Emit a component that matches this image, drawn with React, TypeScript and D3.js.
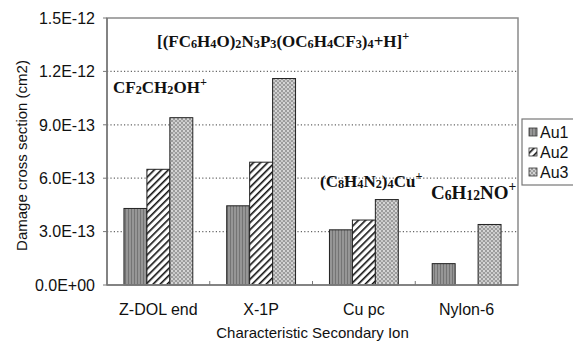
import { useEffect, useRef } from 'react';
import * as d3 from 'd3';

const categories = ['Z-DOL end', 'X-1P', 'Cu pc', 'Nylon-6'];
const seriesNames = ['Au1', 'Au2', 'Au3'];
const au1 = [4.3e-13, 4.45e-13, 3.1e-13, 1.2e-13];
const au2 = [6.5e-13, 6.9e-13, 3.65e-13, 0];
const au3 = [9.4e-13, 1.16e-12, 4.8e-13, 3.4e-13];
const yTicks = [0, 3e-13, 6e-13, 9e-13, 1.2e-12, 1.5e-12];
// ion labels: "_" = subscript digits, "^" = superscript
const ionLabels = [
  { text: '[(FC_6H_4O)_2N_3P_3(OC_6H_4CF_3)_4+H]^+', x: 157, y: 47, size: 17 },
  { text: 'CF_2CH_2OH^+', x: 113, y: 93, size: 17 },
  { text: '(C_8H_4N_2)_4Cu^+', x: 320, y: 187, size: 17 },
  { text: 'C_6H_12NO^+', x: 431, y: 199, size: 19 },
];

const fmt = (v: number) => {
  const [m, e] = v.toExponential(1).split('e');
  return `${m}E${e[0]}${e.slice(1).padStart(2, '0')}`;
};

const parseLabel = (s: string) => {
  const parts: { t: string; kind: string }[] = [];
  const re = /_(\d+)|\^(\+)|([^_^]+)/g;
  let m;
  while ((m = re.exec(s))) {
    if (m[1]) parts.push({ t: m[1], kind: 'sub' });
    else if (m[2]) parts.push({ t: m[2], kind: 'sup' });
    else parts.push({ t: m[3], kind: 'n' });
  }
  return parts;
};

export default function App() {
  const ref = useRef<SVGSVGElement>(null);

  useEffect(() => {
    const W = 573, H = 343;
    const margin = { top: 18, right: 55, bottom: 58, left: 107 };
    const width = W - margin.left - margin.right;
    const height = H - margin.top - margin.bottom;

    const svg = d3.select(ref.current);
    svg.selectAll('*').remove();

    const defs = svg.append('defs');
    const p1 = defs.append('pattern').attr('id', 'pAu1').attr('patternUnits', 'userSpaceOnUse')
      .attr('width', 3).attr('height', 4);
    p1.append('rect').attr('width', 3).attr('height', 4).attr('fill', '#969696');
    p1.append('rect').attr('width', 1).attr('height', 4).attr('fill', '#747474');
    const p2 = defs.append('pattern').attr('id', 'pAu2').attr('patternUnits', 'userSpaceOnUse')
      .attr('width', 5).attr('height', 5).attr('patternTransform', 'rotate(45)');
    p2.append('rect').attr('width', 5).attr('height', 5).attr('fill', '#fff');
    p2.append('rect').attr('width', 1.6).attr('height', 5).attr('fill', '#111');
    const p3 = defs.append('pattern').attr('id', 'pAu3').attr('patternUnits', 'userSpaceOnUse')
      .attr('width', 4).attr('height', 4);
    p3.append('rect').attr('width', 4).attr('height', 4).attr('fill', '#9c9c9c');
    p3.append('circle').attr('cx', 1).attr('cy', 1).attr('r', 0.9).attr('fill', '#f2f2f2');
    p3.append('circle').attr('cx', 3).attr('cy', 3).attr('r', 0.9).attr('fill', '#e0e0e0');
    const fills = ['url(#pAu1)', 'url(#pAu2)', 'url(#pAu3)'];

    const g = svg.append('g').attr('transform', `translate(${margin.left},${margin.top})`);

    const x0 = d3.scaleBand().domain(categories).range([0, width]).paddingInner(0.33).paddingOuter(0.165);
    const x1 = d3.scaleBand().domain(seriesNames).range([0, x0.bandwidth()]);
    const y = d3.scaleLinear().domain([0, 1.5e-12]).range([height, 0]);

    // gridlines
    g.selectAll('.grid').data(yTicks.filter(t => t > 0 && t < 1.5e-12)).join('line')
      .attr('x1', 0).attr('x2', width)
      .attr('y1', d => y(d)).attr('y2', d => y(d))
      .attr('stroke', '#666').attr('stroke-width', 1.2).attr('stroke-dasharray', '1.2,2.2');

    // bars
    const series = [au1, au2, au3];
    categories.forEach((c, ci) => {
      seriesNames.forEach((s, si) => {
        const v = series[si][ci];
        if (!v) return;
        g.append('rect')
          .attr('x', x0(c)! + x1(s)!)
          .attr('y', y(v))
          .attr('width', x1.bandwidth())
          .attr('height', height - y(v))
          .attr('fill', fills[si])
          .attr('stroke', '#222').attr('stroke-width', 1);
      });
    });

    // plot frame
    g.append('rect').attr('width', width).attr('height', height)
      .attr('fill', 'none').attr('stroke', '#8a8a8a').attr('stroke-width', 1.5);
    g.append('line').attr('x1', 0).attr('x2', 0).attr('y1', 0).attr('y2', height)
      .attr('stroke', '#777').attr('stroke-width', 1.5);
    g.append('line').attr('x1', 0).attr('x2', width).attr('y1', height).attr('y2', height)
      .attr('stroke', '#777').attr('stroke-width', 1.5);

    // y ticks + labels
    g.selectAll('.yt').data(yTicks).join('line')
      .attr('x1', -4).attr('x2', 0).attr('y1', d => y(d)).attr('y2', d => y(d))
      .attr('stroke', '#777');
    g.selectAll('.yl').data(yTicks).join('text')
      .attr('x', -12).attr('y', d => y(d)).attr('dy', '0.36em')
      .attr('text-anchor', 'end')
      .attr('font-family', 'Liberation Sans, Arial, sans-serif').attr('font-size', 16)
      .attr('fill', '#111')
      .text(d => fmt(d));

    // x category boundary ticks
    const bounds = d3.range(1, categories.length).map(i => i * x0.step());
    g.selectAll('.xt').data(bounds).join('line')
      .attr('x1', d => d).attr('x2', d => d).attr('y1', height - 4).attr('y2', height)
      .attr('stroke', '#777');
    g.selectAll('.xl').data(categories).join('text')
      .attr('x', d => x0(d)! + x0.bandwidth() / 2).attr('y', height + 30)
      .attr('text-anchor', 'middle')
      .attr('font-family', 'Liberation Sans, Arial, sans-serif').attr('font-size', 16)
      .attr('fill', '#111')
      .text(d => d);

    // axis titles
    svg.append('text')
      .attr('x', margin.left + width / 2).attr('y', H - 5)
      .attr('text-anchor', 'middle')
      .attr('font-family', 'Liberation Sans, Arial, sans-serif').attr('font-size', 15)
      .attr('fill', '#111')
      .text('Characteristic Secondary Ion');
    svg.append('text')
      .attr('transform', `translate(27,${margin.top + height / 2 + 4}) rotate(-90)`)
      .attr('text-anchor', 'middle')
      .attr('font-family', 'Liberation Sans, Arial, sans-serif').attr('font-size', 15)
      .attr('fill', '#111')
      .text('Damage cross section (cm2)');

    // ion annotations
    ionLabels.forEach(l => {
      const t = svg.append('text').attr('x', l.x).attr('y', l.y)
        .attr('font-family', 'Liberation Serif, Times New Roman, serif')
        .attr('font-weight', 'bold').attr('font-size', l.size).attr('fill', '#111');
      let shift = 0;
      parseLabel(l.text).forEach(p => {
        const target = p.kind === 'sub' ? 1 : p.kind === 'sup' ? -l.size * 0.4 : 0;
        t.append('tspan')
          .attr('dy', target - shift)
          .attr('font-size', p.kind === 'n' ? l.size : l.size * 0.72)
          .text(p.t);
        shift = target;
      });
    });

    // legend
    const lg = svg.append('g').attr('transform', 'translate(522,119)');
    lg.append('rect').attr('width', 60).attr('height', 66)
      .attr('fill', '#fff').attr('stroke', '#777').attr('stroke-width', 1.2);
    seriesNames.forEach((s, i) => {
      const row = lg.append('g').attr('transform', `translate(7,${13 + i * 20})`);
      row.append('rect').attr('x', 0).attr('y', -4).attr('width', 8).attr('height', 8)
        .attr('fill', fills[i]).attr('stroke', '#333').attr('stroke-width', 0.8);
      row.append('text').attr('x', 11).attr('y', 0).attr('dy', '0.36em')
        .attr('font-family', 'Liberation Sans, Arial, sans-serif').attr('font-size', 16)
        .attr('fill', '#111')
        .text(s);
    });
  }, []);

  return (
    <svg ref={ref} width={573} height={343}
      style={{ position: 'absolute', left: 0, top: 0, background: '#fff' }} />
  );
}
